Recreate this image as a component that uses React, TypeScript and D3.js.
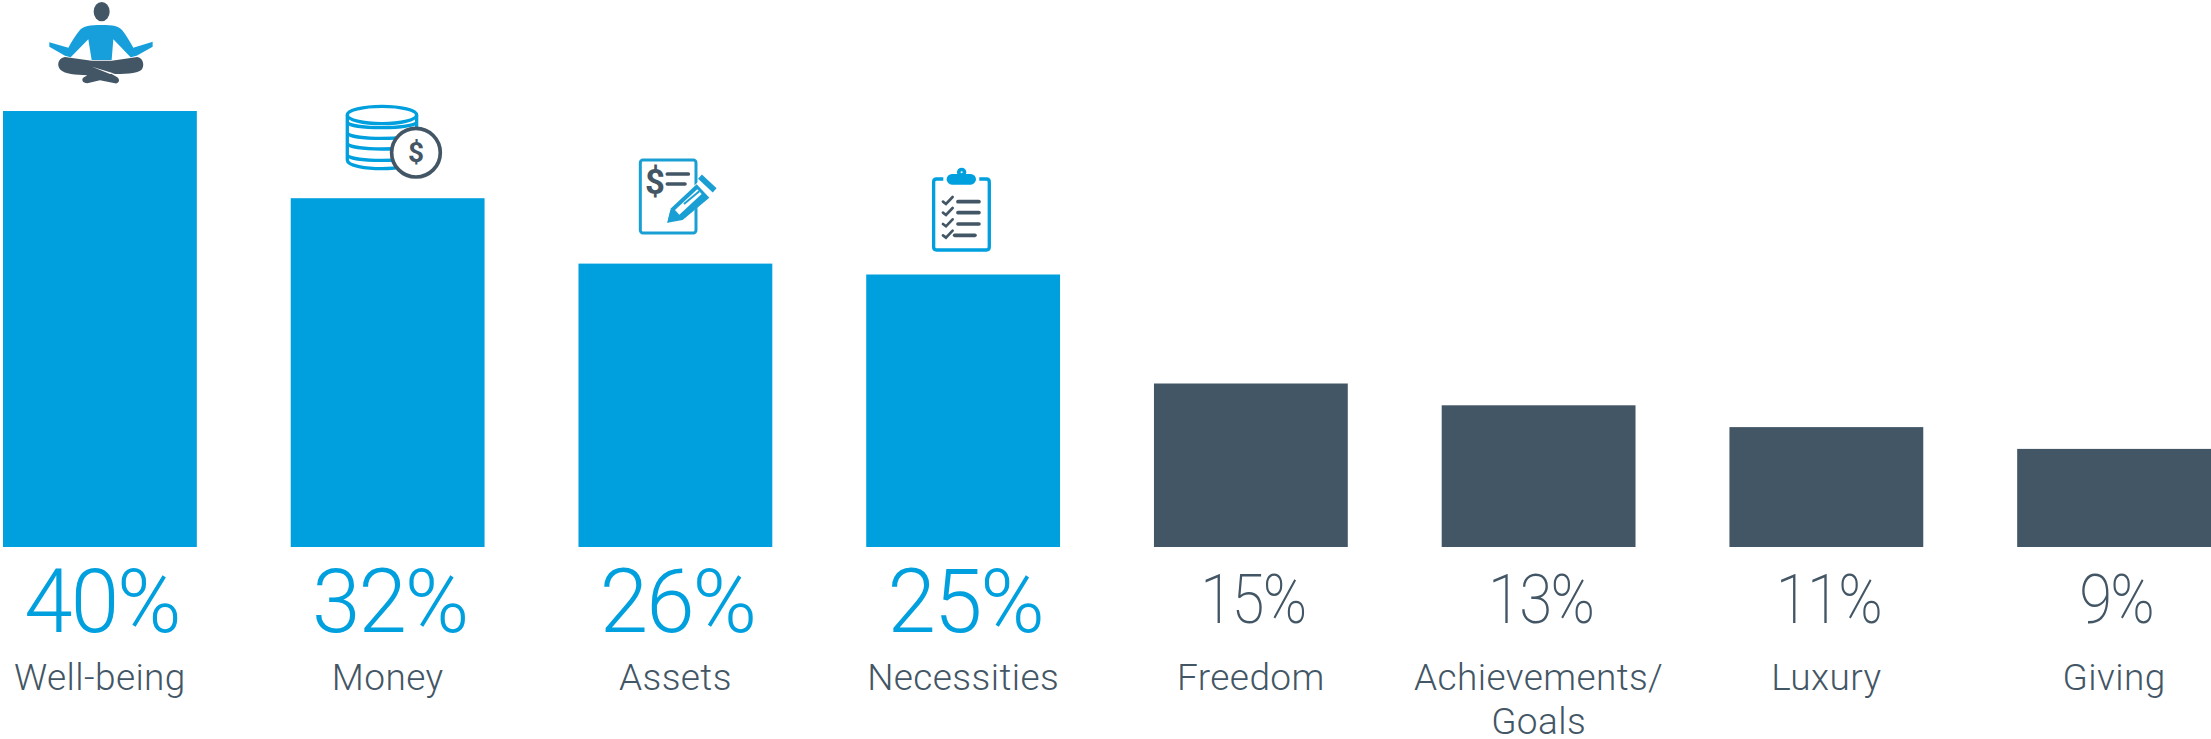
import React from "react";
import * as d3 from "d3";

const categories = ["Well-being", "Money", "Assets", "Necessities", "Freedom", "Achievements/|Goals", "Luxury", "Giving"];
const shares = [40, 32, 26, 25, 15, 13, 11, 9];
const highlightCount = 4;

const BLUE = "#00a0df";
const SLATE = "#435665";
const WIDTH = 2211;
const HEIGHT = 739;
const FONT = "Roboto, 'Noto Sans', sans-serif";

const x = d3.scaleBand<number>().domain(d3.range(categories.length)).range([3, 2211]).paddingInner(94 / 288).paddingOuter(0);
const y = d3.scaleLinear().domain([0, 40]).range([547, 111]);

// Pictograms are authored on a 3x grid and scaled down where they are placed.
function Meditator() {
  return (
    <g transform="scale(0.3333)">
      <ellipse cx={305} cy={35} rx={24} ry={29} fill={SLATE} />
      <path fill="#179fdc" d="M305 75 C270 75 250 78 238 92 C225 108 215 125 205 143 L148 127 L148 140 L195 167 L212 172 L265 118 L275 180 L335 180 L340 118 L392 172 L410 167 L458 140 L458 125 L400 143 C390 125 380 108 368 92 C355 78 340 75 305 75 Z" />
      <path fill={SLATE} d="M195 171 L275 182 L335 182 L412 171 C432 175 434 200 424 210 C410 222 370 222 335 222 L352 232 C362 240 356 252 345 250 L300 241 L262 250 C248 250 242 238 252 232 L262 226 C225 224 195 222 182 210 C170 198 172 175 195 171 Z" />
      <path fill="#fff" d="M276 200 L345 221 L330 222 Z" />
    </g>
  );
}

function Coins() {
  const rungs = [378, 410, 442, 476];
  return (
    <g transform="scale(0.3333)" fill="none">
      <ellipse cx={1146} cy={345} rx={104} ry={26} stroke={BLUE} strokeWidth={10} />
      <path d="M1042 345 V480 C1042 498 1100 506 1146 506 C1190 506 1250 498 1250 480 V345" stroke={BLUE} strokeWidth={10} />
      {rungs.map((r) => (
        <path key={r} d={`M1042 ${r - 10} C1060 ${r + 10} 1230 ${r + 10} 1250 ${r - 10}`} stroke={BLUE} strokeWidth={10} />
      ))}
      <circle cx={1248} cy={458} r={73} fill="#fff" stroke={SLATE} strokeWidth={11} />
      <text x={1248} y={487} textAnchor="middle" fontFamily={FONT} fontSize={84} fontWeight={700} fill={SLATE}>$</text>
    </g>
  );
}

function Ledger() {
  return (
    <g transform="scale(0.3333)" fill="none">
      <rect x={241} y={90} width={167} height={219} rx={8} stroke="#1a9fd4" strokeWidth={9} fill="#fff" />
      <text x={285} y={192} textAnchor="middle" fontFamily={FONT} fontSize={104} fontWeight={700} fill={SLATE}>$</text>
      <path d="M322 132 H385 M322 162 H375" stroke={SLATE} strokeWidth={11} strokeLinecap="round" />
      <path d="M322 278 L333 232 L428 143 L466 184 L372 268 Z" fill="#fff" />
      <path d="M322 278 L333 235 L410 163 L448 203 L368 270 Z" fill="#1a9fd4" />
      <path d="M345 240 L412 178 L425 192 L358 254 Z" fill="#fff" />
      <path d="M372 222 L418 184" stroke="#1a9fd4" strokeWidth={6} />
      <path d="M322 278 L331 240 L358 265 Z" fill="#1a9fd4" />
      <path d="M420 140 L464 181" stroke="#1a9fd4" strokeWidth={17} />
    </g>
  );
}

function Clipboard() {
  const rows = [215, 248, 282, 316];
  return (
    <g transform="scale(0.3333)" fill="none">
      <path d="M1150 147 H1130 Q1121 147 1121 156 V351 Q1121 360 1130 360 H1279 Q1288 360 1288 351 V156 Q1288 147 1279 147 H1258" stroke={BLUE} strokeWidth={10} />
      <rect x={1160} y={132} width={88} height={32} rx={16} fill={BLUE} />
      <circle cx={1205} cy={127} r={14} fill={BLUE} />
      <circle cx={1205} cy={127} r={3} fill="#fff" />
      {rows.map((r, i) => (
        <g key={r} stroke={SLATE} strokeLinecap="round">
          <path d={`M1149 ${r} L1158 ${r + 7} L1178 ${r - 14}`} strokeWidth={8} />
          <path d={`M${i === 3 ? 1184 : 1194} ${r} H${i === 3 ? 1245 : 1257}`} strokeWidth={11} />
        </g>
      ))}
    </g>
  );
}

const pictograms = [
  { node: <Meditator />, dx: 0, dy: 0 },
  { node: <Coins />, dx: 0, dy: 0 },
  { node: <Ledger />, dx: 560, dy: 130 },
  { node: <Clipboard />, dx: 560, dy: 130 },
];

export default function App() {
  return (
    <svg width={WIDTH} height={HEIGHT} viewBox={`0 0 ${WIDTH} ${HEIGHT}`} style={{ position: "absolute", left: 0, top: 0, background: "#fff" }}>
      {shares.map((v, i) => (
        <rect key={i} x={x(i)} y={y(v)} width={x.bandwidth()} height={y(0) - y(v)} fill={i < highlightCount ? BLUE : SLATE} />
      ))}
      {pictograms.map((p, i) => (
        <g key={i} transform={`translate(${p.dx},${p.dy})`}>{p.node}</g>
      ))}
      {shares.map((v, i) => {
        const big = i < highlightCount;
        const cx = x(i)! + x.bandwidth() / 2 + 2;
        return (
          <text key={i} transform={`translate(${cx},${big ? 632 : 623}) scale(${big ? 0.98 : 0.88},1)`} textAnchor="middle"
            fontFamily={FONT} fontWeight={big ? 300 : 200} fontSize={big ? 89 : 68} letterSpacing={-2} fill={big ? BLUE : SLATE}>
            {v}%
          </text>
        );
      })}
      {categories.map((c, i) => (
        <text key={c} textAnchor="middle" fontFamily={FONT} fontWeight={300} fontSize={37} letterSpacing={0.4} fill={SLATE}>
          {c.split("|").map((line, k) => (
            <tspan key={line} x={x(i)! + x.bandwidth() / 2} y={690 + k * 44}>{line}</tspan>
          ))}
        </text>
      ))}
    </svg>
  );
}
